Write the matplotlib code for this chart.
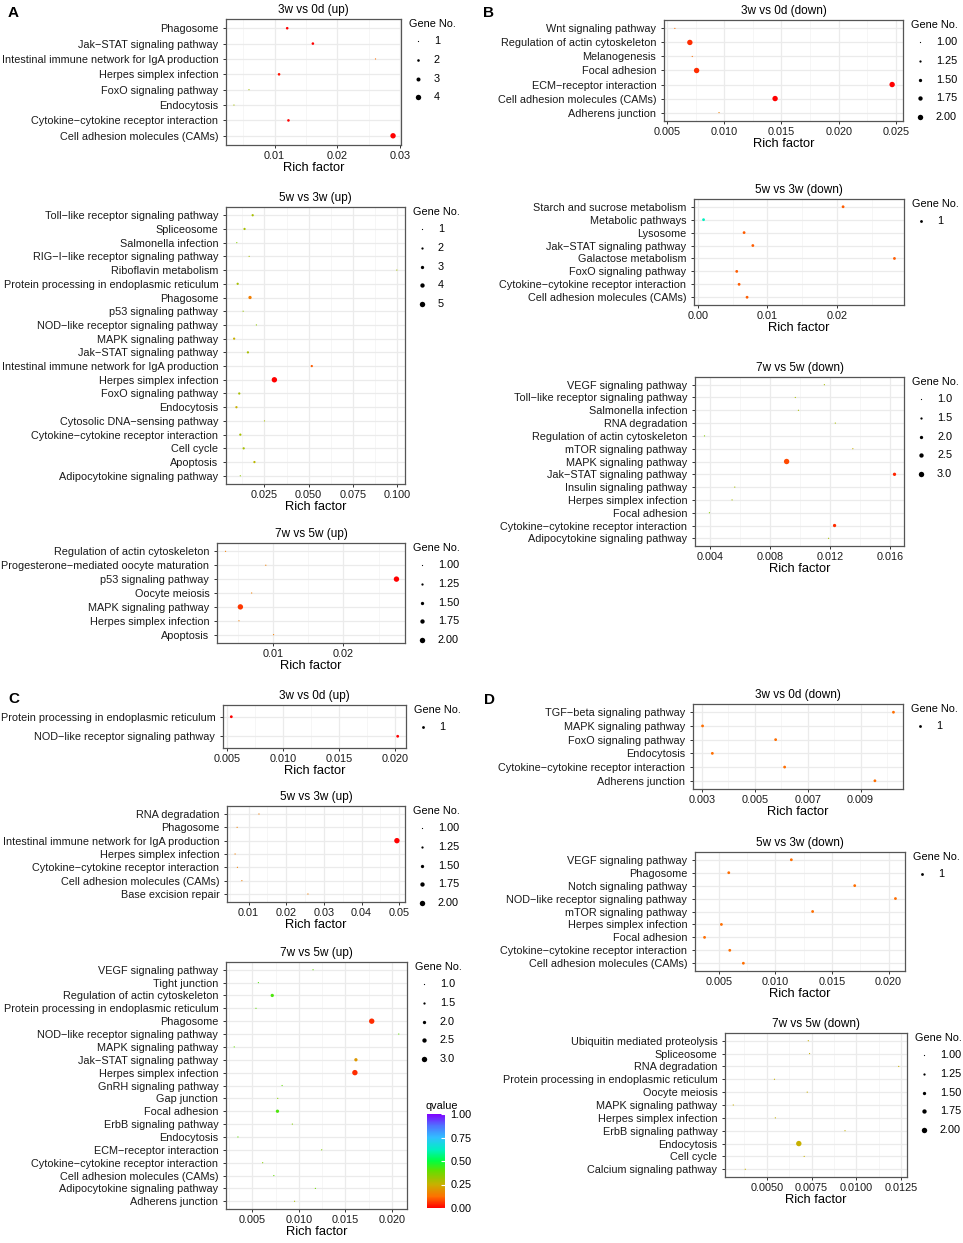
import matplotlib
matplotlib.use("Agg")
import matplotlib.pyplot as plt
import numpy as np
from matplotlib.colors import LinearSegmentedColormap, Normalize
from matplotlib.cm import ScalarMappable

plt.rcParams['font.family'] = ['Liberation Sans', 'DejaVu Sans']

W, H = 963, 1243

# ---------------- data (terms listed top to bottom) ----------------
# A: 3w vs 0d (up)
a1_terms = ["Phagosome", "Jak\u2212STAT signaling pathway", "Intestinal immune network for IgA production",
            "Herpes simplex infection", "FoxO signaling pathway", "Endocytosis",
            "Cytokine\u2212cytokine receptor interaction", "Cell adhesion molecules (CAMs)"]
a1_rich = [0.0120, 0.0161, 0.0261, 0.0107, 0.0059, 0.0035, 0.0122, 0.0289]
a1_genes = [2, 2, 1, 2, 1, 1, 2, 4]
a1_q = [0.0, 0.0, 0.12, 0.02, 0.3, 0.3, 0.0, 0.0]
a1_leg = ["1", "2", "3", "4"]

# A: 5w vs 3w (up)
a2_terms = ["Toll\u2212like receptor signaling pathway", "Spliceosome", "Salmonella infection",
            "RIG\u2212I\u2212like receptor signaling pathway", "Riboflavin metabolism",
            "Protein processing in endoplasmic reticulum", "Phagosome", "p53 signaling pathway",
            "NOD\u2212like receptor signaling pathway", "MAPK signaling pathway", "Jak\u2212STAT signaling pathway",
            "Intestinal immune network for IgA production", "Herpes simplex infection",
            "FoxO signaling pathway", "Endocytosis", "Cytosolic DNA\u2212sensing pathway",
            "Cytokine\u2212cytokine receptor interaction", "Cell cycle", "Apoptosis",
            "Adipocytokine signaling pathway"]
a2_rich = [0.0183, 0.0137, 0.0093, 0.0163, 0.1000, 0.0098, 0.0168, 0.0129, 0.0204, 0.0078,
           0.0156, 0.0518, 0.0306, 0.0107, 0.0091, 0.0250, 0.0113, 0.0132, 0.0193, 0.0113]
a2_genes = [2, 2, 1, 1, 1, 2, 3, 1, 1, 2, 2, 2, 5, 2, 2, 1, 2, 2, 2, 1]
a2_q = [0.3, 0.3, 0.35, 0.3, 0.3, 0.3, 0.15, 0.32, 0.33, 0.25,
        0.3, 0.1, 0.0, 0.3, 0.25, 0.3, 0.3, 0.3, 0.27, 0.33]
a2_leg = ["1", "2", "3", "4", "5"]

# A: 7w vs 5w (up)
a3_terms = ["Regulation of actin cytoskeleton", "Progesterone\u2212mediated oocyte maturation",
            "p53 signaling pathway", "Oocyte meiosis", "MAPK signaling pathway",
            "Herpes simplex infection", "Apoptosis"]
a3_rich = [0.0033, 0.0090, 0.0275, 0.0070, 0.0054, 0.0052, 0.0101]
a3_genes = [1, 1, 2, 1, 2, 1, 1]
a3_q = [0.15, 0.15, 0.0, 0.15, 0.06, 0.15, 0.15]
a3_leg = ["1.00", "1.25", "1.50", "1.75", "2.00"]

# B: 3w vs 0d (down)
b1_terms = ["Wnt signaling pathway", "Regulation of actin cytoskeleton", "Melanogenesis",
            "Focal adhesion", "ECM\u2212receptor interaction", "Cell adhesion molecules (CAMs)",
            "Adherens junction"]
b1_rich = [0.00568, 0.00699, 0.0072, 0.00758, 0.02467, 0.01444, 0.00954]
b1_genes = [1, 2, 1, 2, 2, 2, 1]
b1_q = [0.12, 0.05, 0.12, 0.05, 0.0, 0.0, 0.15]
b1_leg = ["1.00", "1.25", "1.50", "1.75", "2.00"]

# B: 5w vs 3w (down)
b2_terms = ["Starch and sucrose metabolism", "Metabolic pathways", "Lysosome",
            "Jak\u2212STAT signaling pathway", "Galactose metabolism", "FoxO signaling pathway",
            "Cytokine\u2212cytokine receptor interaction", "Cell adhesion molecules (CAMs)"]
b2_rich = [0.0209, 0.0008, 0.00664, 0.0079, 0.0283, 0.00558, 0.00592, 0.00707]
b2_genes = [1, 1, 1, 1, 1, 1, 1, 1]
b2_q = [0.1, 0.62, 0.1, 0.1, 0.1, 0.1, 0.1, 0.1]
b2_leg = ["1"]

# B: 7w vs 5w (down)
b3_terms = ["VEGF signaling pathway", "Toll\u2212like receptor signaling pathway", "Salmonella infection",
            "RNA degradation", "Regulation of actin cytoskeleton", "mTOR signaling pathway",
            "MAPK signaling pathway", "Jak\u2212STAT signaling pathway", "Insulin signaling pathway",
            "Herpes simplex infection", "Focal adhesion", "Cytokine\u2212cytokine receptor interaction",
            "Adipocytokine signaling pathway"]
b3_rich = [0.01163, 0.00969, 0.0099, 0.01236, 0.00363, 0.01353, 0.00911, 0.01631,
           0.00565, 0.00547, 0.00396, 0.01231, 0.01191]
b3_genes = [1, 1, 1, 1, 1, 1, 3, 2, 1, 1, 1, 2, 1]
b3_q = [0.3, 0.3, 0.3, 0.3, 0.35, 0.25, 0.08, 0.04, 0.3, 0.3, 0.35, 0.05, 0.3]
b3_leg = ["1.0", "1.5", "2.0", "2.5", "3.0"]

# C: 3w vs 0d (up)
c1_terms = ["Protein processing in endoplasmic reticulum", "NOD\u2212like receptor signaling pathway"]
c1_rich = [0.00536, 0.0202]
c1_genes = [1, 1]
c1_q = [0.0, 0.0]
c1_leg = ["1"]

# C: 5w vs 3w (up)
c2_terms = ["RNA degradation", "Phagosome", "Intestinal immune network for IgA production",
            "Herpes simplex infection", "Cytokine\u2212cytokine receptor interaction",
            "Cell adhesion molecules (CAMs)", "Base excision repair"]
c2_rich = [0.01278, 0.00698, 0.0494, 0.00644, 0.00706, 0.00824, 0.02578]
c2_genes = [1, 1, 2, 1, 1, 1, 1]
c2_q = [0.15, 0.15, 0.0, 0.15, 0.15, 0.15, 0.15]
c2_leg = ["1.00", "1.25", "1.50", "1.75", "2.00"]

# C: 7w vs 5w (up)
c3_terms = ["VEGF signaling pathway", "Tight junction", "Regulation of actin cytoskeleton",
            "Protein processing in endoplasmic reticulum", "Phagosome",
            "NOD\u2212like receptor signaling pathway", "MAPK signaling pathway",
            "Jak\u2212STAT signaling pathway", "Herpes simplex infection", "GnRH signaling pathway",
            "Gap junction", "Focal adhesion", "ErbB signaling pathway", "Endocytosis",
            "ECM\u2212receptor interaction", "Cytokine\u2212cytokine receptor interaction",
            "Cell adhesion molecules (CAMs)", "Adipocytokine signaling pathway", "Adherens junction"]
c3_rich = [0.01152, 0.00564, 0.00713, 0.00538, 0.01783, 0.02074, 0.00304, 0.01613, 0.01602,
           0.00819, 0.00772, 0.00769, 0.00929, 0.00344, 0.01245, 0.0061, 0.0073, 0.01177, 0.00953]
c3_genes = [1, 1, 2, 1, 3, 1, 1, 2, 3, 1, 1, 2, 1, 1, 1, 1, 1, 1, 1]
c3_q = [0.4, 0.42, 0.42, 0.4, 0.05, 0.4, 0.4, 0.2, 0.05, 0.4,
        0.35, 0.42, 0.35, 0.4, 0.35, 0.35, 0.4, 0.38, 0.3]
c3_leg = ["1.0", "1.5", "2.0", "2.5", "3.0"]

# D: 3w vs 0d (down)
d1_terms = ["TGF\u2212beta signaling pathway", "MAPK signaling pathway", "FoxO signaling pathway",
            "Endocytosis", "Cytokine\u2212cytokine receptor interaction", "Adherens junction"]
d1_rich = [0.01024, 0.00303, 0.00579, 0.0034, 0.00613, 0.00954]
d1_genes = [1, 1, 1, 1, 1, 1]
d1_q = [0.12, 0.12, 0.12, 0.12, 0.12, 0.12]
d1_leg = ["1"]

# D: 5w vs 3w (down)
d2_terms = ["VEGF signaling pathway", "Phagosome", "Notch signaling pathway",
            "NOD\u2212like receptor signaling pathway", "mTOR signaling pathway",
            "Herpes simplex infection", "Focal adhesion",
            "Cytokine\u2212cytokine receptor interaction", "Cell adhesion molecules (CAMs)"]
d2_rich = [0.01141, 0.00588, 0.01701, 0.02061, 0.01329, 0.00523, 0.00374, 0.00597, 0.00717]
d2_genes = [1, 1, 1, 1, 1, 1, 1, 1, 1]
d2_q = [0.12, 0.12, 0.12, 0.12, 0.12, 0.12, 0.12, 0.12, 0.12]
d2_leg = ["1"]

# D: 7w vs 5w (down)
d3_terms = ["Ubiquitin mediated proteolysis", "Spliceosome", "RNA degradation",
            "Protein processing in endoplasmic reticulum", "Oocyte meiosis", "MAPK signaling pathway",
            "Herpes simplex infection", "ErbB signaling pathway", "Endocytosis", "Cell cycle",
            "Calcium signaling pathway"]
d3_rich = [0.00732, 0.00739, 0.01237, 0.00543, 0.00726, 0.00313, 0.00548, 0.00937,
           0.00679, 0.00709, 0.0038]
d3_genes = [1, 1, 1, 1, 1, 1, 1, 1, 2, 1, 1]
d3_q = [0.25, 0.25, 0.25, 0.25, 0.25, 0.25, 0.25, 0.25, 0.25, 0.25, 0.25]
d3_leg = ["1.00", "1.25", "1.50", "1.75", "2.00"]

# ---------------- styling ----------------
qcmap = LinearSegmentedColormap.from_list("qv", [
    (0.0, "#FF0000"), (0.12, "#FF7000"), (0.25, "#C8B000"), (0.4, "#60E000"),
    (0.5, "#00FF40"), (0.62, "#00F0C0"), (0.75, "#30C0FF"), (0.88, "#5070FF"), (1.0, "#8000FF")])

LBL = 7.8
D_MIN, D_MAX, D_ONE = 1.2, 5.4, 2.8   # dot diameters in pixels
fig = plt.figure(figsize=(W / 100, H / 100), dpi=100)


def px_axes(x0, y0, x1, y1):
    return fig.add_axes([x0 / W, 1 - y1 / H, (x1 - x0) / W, (y1 - y0) / H])


def diam(g, gmin, gmax):
    if gmax == gmin:
        return D_ONE
    return D_MIN + (g - gmin) / (gmax - gmin) * (D_MAX - D_MIN)


legends = []


def panel(box, title, terms, rich, genes, qv, xticks, xlabels, leg):
    x0, y0, x1, y1 = box
    ax = px_axes(*box)
    n = len(terms)
    ypos = np.arange(n)[::-1]
    gmin, gmax = min(genes), max(genes)
    sizes = [(diam(g, gmin, gmax) * 0.72) ** 2 for g in genes]
    ax.scatter(rich, ypos, s=sizes, c=qv, cmap=qcmap, vmin=0, vmax=1, linewidths=0, zorder=3)
    lo, hi = min(rich), max(rich)
    pad = (hi - lo) * 0.05
    ax.set_yticks(ypos)
    ax.set_yticklabels(terms, fontsize=LBL, color="#1a1a1a")
    ax.set_xticks(xticks)
    ax.set_xticklabels(xlabels, fontsize=LBL, color="#1a1a1a")
    step = xticks[1] - xticks[0]
    minor = np.arange(xticks[0] - step / 2, xticks[-1] + step, step)
    minor = minor[(minor > lo - pad) & (minor < hi + pad)]
    ax.set_xticks(minor, minor=True)
    ax.set_xlim(lo - pad, hi + pad)
    ax.set_ylim(-0.6, n - 0.4)
    ax.tick_params(which="major", length=2.5, width=0.7, color="#333333")
    ax.tick_params(axis="y", pad=3)
    ax.tick_params(axis="x", pad=1.5)
    ax.tick_params(which="minor", length=0)
    ax.grid(True, which="major", color="#EBEBEB", lw=0.9, zorder=0)
    ax.grid(True, which="minor", axis="x", color="#F3F3F3", lw=0.5, zorder=0)
    ax.set_axisbelow(True)
    for sp in ax.spines.values():
        sp.set_color("#555555")
        sp.set_linewidth(0.9)
    ax.set_xlabel("Rich factor", fontsize=9.3, labelpad=1)
    ax.set_title(title, fontsize=8.5, pad=4)
    # legend info for gene count
    if gmax == gmin:
        ds = [D_ONE]
    else:
        ds = list(np.linspace(D_MIN, D_MAX, len(leg)))
    legends.append((x1, y0, leg, ds))
    return ax


panel((226, 19, 401, 145), "3w vs 0d (up)", a1_terms, a1_rich, a1_genes, a1_q,
      [0.01, 0.02, 0.03], ["0.01", "0.02", "0.03"], a1_leg)
panel((226, 207, 405, 484), "5w vs 3w (up)", a2_terms, a2_rich, a2_genes, a2_q,
      [0.025, 0.05, 0.075, 0.1], ["0.025", "0.050", "0.075", "0.100"], a2_leg)
panel((217, 543, 405, 643), "7w vs 5w (up)", a3_terms, a3_rich, a3_genes, a3_q,
      [0.01, 0.02], ["0.01", "0.02"], a3_leg)
panel((664, 20, 903, 121), "3w vs 0d (down)", b1_terms, b1_rich, b1_genes, b1_q,
      [0.005, 0.01, 0.015, 0.02, 0.025], ["0.005", "0.010", "0.015", "0.020", "0.025"], b1_leg)
panel((694, 199, 904, 305), "5w vs 3w (down)", b2_terms, b2_rich, b2_genes, b2_q,
      [0.0, 0.01, 0.02], ["0.00", "0.01", "0.02"], b2_leg)
panel((695, 377, 904, 546), "7w vs 5w (down)", b3_terms, b3_rich, b3_genes, b3_q,
      [0.004, 0.008, 0.012, 0.016], ["0.004", "0.008", "0.012", "0.016"], b3_leg)
panel((223, 705, 406, 748), "3w vs 0d (up)", c1_terms, c1_rich, c1_genes, c1_q,
      [0.005, 0.01, 0.015, 0.02], ["0.005", "0.010", "0.015", "0.020"], c1_leg)
panel((227, 806, 405, 902), "5w vs 3w (up)", c2_terms, c2_rich, c2_genes, c2_q,
      [0.01, 0.02, 0.03, 0.04, 0.05], ["0.01", "0.02", "0.03", "0.04", "0.05"], c2_leg)
panel((226, 962, 407, 1209), "7w vs 5w (up)", c3_terms, c3_rich, c3_genes, c3_q,
      [0.005, 0.01, 0.015, 0.02], ["0.005", "0.010", "0.015", "0.020"], c3_leg)
panel((693, 704, 903, 789), "3w vs 0d (down)", d1_terms, d1_rich, d1_genes, d1_q,
      [0.003, 0.005, 0.007, 0.009], ["0.003", "0.005", "0.007", "0.009"], d1_leg)
panel((695, 852, 905, 971), "5w vs 3w (down)", d2_terms, d2_rich, d2_genes, d2_q,
      [0.005, 0.01, 0.015, 0.02], ["0.005", "0.010", "0.015", "0.020"], d2_leg)
panel((725, 1033, 907, 1177), "7w vs 5w (down)", d3_terms, d3_rich, d3_genes, d3_q,
      [0.005, 0.0075, 0.01, 0.0125], ["0.0050", "0.0075", "0.0100", "0.0125"], d3_leg)

# qvalue colour bar (only drawn once, beside C 7w vs 5w)
cax = px_axes(427, 1114, 445, 1208)
cb = fig.colorbar(ScalarMappable(norm=Normalize(0, 1), cmap=qcmap), cax=cax)
cb.set_ticks([0, 0.25, 0.5, 0.75, 1.0])
cb.set_ticklabels(["0.00", "0.25", "0.50", "0.75", "1.00"])
cb.ax.tick_params(labelsize=LBL, length=3, color="white", width=0.8, direction="in", pad=4)
cb.outline.set_visible(False)

# overlay in pixel coordinates for legends and panel letters
ov = fig.add_axes([0, 0, 1, 1])
ov.set_xlim(0, W)
ov.set_ylim(H, 0)
ov.axis("off")

for (x1, y0, leg, ds) in legends:
    ov.text(x1 + 8, y0 + 5, "Gene No.", fontsize=LBL, va="center", ha="left")
    for i, (lab, d) in enumerate(zip(leg, ds)):
        yy = y0 + 22 + i * 18.8
        ov.scatter([x1 + 17], [yy], s=(d * 0.72) ** 2, color="black", linewidths=0)
        ov.text(x1 + 33, yy, lab, fontsize=LBL, va="center", ha="left")

ov.text(426, 1106, "qvalue", fontsize=LBL, va="center", ha="left")

for letter, x, y in [("A", 8, 13), ("B", 483, 13), ("C", 8, 699), ("D", 484, 700)]:
    ov.text(x, y, letter, fontsize=11, fontweight="bold", va="center", ha="left")

fig.savefig("out.png", dpi=100)
